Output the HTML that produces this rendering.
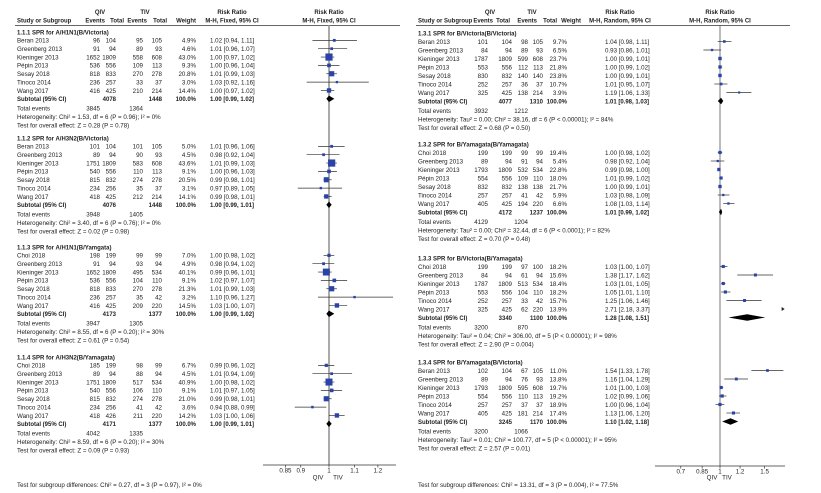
<!DOCTYPE html>
<html><head><meta charset="utf-8">
<style>
html,body{margin:0;padding:0;background:#fff;}
svg{display:block;font-family:"Liberation Sans",Arial,sans-serif;}
</style></head>
<body>
<svg id="chart" width="821" height="493" viewBox="0 0 821 493" xmlns="http://www.w3.org/2000/svg"></svg>
<script>
// ---------- LEFT PANEL DATA ----------
const L_titles = ["1.1.1 SPR for A/H1N1(B/Victoria)","1.1.2 SPR for A/H3N2(B/Victoria)","1.1.3 SPR for A/H1N1(B/Yamgata)","1.1.4 SPR for A/H3N2(B/Yamagata)"];
const L_names = [
 ["Beran 2013","Greenberg 2013","Kieninger 2013","Pépin 2013","Sesay 2018","Tinoco 2014","Wang 2017"],
 ["Beran 2013","Greenberg 2013","Kieninger 2013","Pépin 2013","Sesay 2018","Tinoco 2014","Wang 2017"],
 ["Choi 2018","Greenberg 2013","Kieninger 2013","Pépin 2013","Sesay 2018","Tinoco 2014","Wang 2017"],
 ["Choi 2018","Greenberg 2013","Kieninger 2013","Pépin 2013","Sesay 2018","Tinoco 2014","Wang 2017"]];
const L_qivE = [[96,91,1652,536,818,236,416],[101,89,1751,540,815,234,418],[198,91,1652,536,818,236,416],[185,89,1751,540,815,234,418]];
const L_qivT = [[104,94,1809,556,833,257,425],[104,94,1809,556,832,256,425],[199,94,1809,556,833,257,425],[199,94,1809,556,832,256,426]];
const L_tivE = [[95,89,558,109,270,33,210],[101,90,583,110,274,35,212],[99,93,495,104,270,35,209],[98,88,517,106,274,41,211]];
const L_tivT = [[105,93,608,113,278,37,214],[105,93,608,113,278,37,214],[99,94,534,110,278,42,220],[99,94,534,110,278,42,220]];
const L_weight = [[4.9,4.6,43.0,9.3,20.8,3.0,14.4],[5.0,4.5,43.6,9.1,20.5,3.1,14.1],[7.0,4.9,40.1,9.1,21.3,3.2,14.5],[6.7,4.5,40.9,9.1,21.0,3.6,14.2]];
const L_rr = [[1.02,1.01,1.00,1.00,1.01,1.03,1.00],[1.01,0.98,1.01,1.00,0.99,0.97,0.99],[1.00,0.98,0.99,1.02,1.01,1.10,1.03],[0.99,1.01,1.00,1.01,0.99,0.94,1.03]];
const L_lo = [[0.94,0.96,0.97,0.96,0.99,0.92,0.97],[0.96,0.92,0.99,0.96,0.98,0.89,0.98],[0.98,0.94,0.96,0.97,0.99,0.96,1.00],[0.96,0.94,0.98,0.97,0.98,0.88,1.00]];
const L_hi = [[1.11,1.07,1.02,1.04,1.03,1.16,1.02],[1.06,1.04,1.03,1.03,1.01,1.05,1.01],[1.02,1.02,1.01,1.07,1.03,1.27,1.07],[1.02,1.09,1.02,1.05,1.01,0.99,1.06]];
const L_subQivT = [4078,4076,4173,4171];
const L_subTivT = [1448,1448,1377,1377];
const L_subRR = [1.00,1.00,1.00,1.00];
const L_subLo = [0.99,0.99,0.99,0.99];
const L_subHi = [1.02,1.01,1.02,1.01];
const L_totQiv = [3845,3948,3947,4042];
const L_totTiv = [1364,1405,1305,1335];
const L_het = ["Heterogeneity: Chi² = 1.53, df = 6 (P = 0.96); I² = 0%","Heterogeneity: Chi² = 3.40, df = 6 (P = 0.76); I² = 0%","Heterogeneity: Chi² = 8.55, df = 6 (P = 0.20); I² = 30%","Heterogeneity: Chi² = 8.59, df = 6 (P = 0.20); I² = 30%"];
const L_test = ["Test for overall effect: Z = 0.28 (P = 0.78)","Test for overall effect: Z = 0.02 (P = 0.98)","Test for overall effect: Z = 0.61 (P = 0.54)","Test for overall effect: Z = 0.09 (P = 0.93)"];
const L_ticks = [0.85,0.9,1,1.1,1.2];
const L_tickLabels = ["0.85","0.9","1","1.1","1.2"];

// ---------- RIGHT PANEL DATA ----------
const R_titles = ["1.3.1 SPR for B/Victoria(B/Victoria)","1.3.2 SPR for B/Yamagata(B/Yamagata)","1.3.3 SPR for B/Victoria(B/Yamagata)","1.3.4 SPR for B/Yamagata(B/Victoria)"];
const R_names = [
 ["Beran 2013","Greenberg 2013","Kieninger 2013","Pépin 2013","Sesay 2018","Tinoco 2014","Wang 2017"],
 ["Choi 2018","Greenberg 2013","Kieninger 2013","Pépin 2013","Sesay 2018","Tinoco 2014","Wang 2017"],
 ["Choi 2018","Greenberg 2013","Kieninger 2013","Pépin 2013","Tinoco 2014","Wang 2017"],
 ["Beran 2013","Greenberg 2013","Kieninger 2013","Pépin 2013","Tinoco 2014","Wang 2017"]];
const R_qivE = [[101,84,1787,553,830,252,325],[199,89,1793,554,832,257,405],[199,84,1787,553,252,325],[102,89,1793,554,257,405]];
const R_qivT = [[104,94,1809,556,832,257,425],[199,94,1809,556,832,257,425],[199,94,1809,556,257,425],[104,94,1809,556,257,425]];
const R_tivE = [[98,89,599,112,140,36,138],[99,91,532,109,138,41,194],[97,61,513,104,33,62],[67,76,595,110,37,181]];
const R_tivT = [[105,93,608,113,140,37,214],[99,94,534,110,138,42,220],[100,94,534,110,42,220],[105,93,608,113,37,214]];
const R_weight = [[9.7,6.5,23.7,21.8,23.8,10.7,3.9],[19.4,5.4,22.8,18.0,21.7,5.9,6.6],[18.2,15.6,18.4,18.2,15.7,13.9],[11.0,13.8,19.7,19.2,18.9,17.4]];
const R_rr = [[1.04,0.93,1.00,1.00,1.00,1.01,1.19],[1.00,0.98,0.99,1.01,1.00,1.03,1.08],[1.03,1.38,1.03,1.05,1.25,2.71],[1.54,1.16,1.01,1.02,1.00,1.13]];
const R_lo = [[0.98,0.86,0.99,0.99,0.99,0.95,1.06],[0.98,0.92,0.98,0.99,0.99,0.98,1.03],[1.00,1.17,1.01,1.01,1.06,2.18],[1.33,1.04,1.00,0.99,0.96,1.06]];
const R_hi = [[1.11,1.01,1.01,1.02,1.01,1.07,1.33],[1.02,1.04,1.00,1.02,1.01,1.09,1.14],[1.07,1.62,1.05,1.10,1.46,3.37],[1.78,1.29,1.03,1.06,1.04,1.20]];
const R_subQivT = [4077,4172,3340,3245];
const R_subTivT = [1310,1237,1100,1170];
const R_subRR = [1.01,1.01,1.28,1.10];
const R_subLo = [0.98,0.99,1.08,1.02];
const R_subHi = [1.03,1.02,1.51,1.18];
const R_totQiv = [3932,4129,3200,3200];
const R_totTiv = [1212,1204,870,1066];
const R_het = ["Heterogeneity: Tau² = 0.00; Chi² = 38.16, df = 6 (P < 0.00001); I² = 84%","Heterogeneity: Tau² = 0.00; Chi² = 32.44, df = 6 (P < 0.0001); I² = 82%","Heterogeneity: Tau² = 0.04; Chi² = 306.00, df = 5 (P < 0.00001); I² = 98%","Heterogeneity: Tau² = 0.01; Chi² = 100.77, df = 5 (P < 0.00001); I² = 95%"];
const R_test = ["Test for overall effect: Z = 0.68 (P = 0.50)","Test for overall effect: Z = 0.70 (P = 0.48)","Test for overall effect: Z = 2.90 (P = 0.004)","Test for overall effect: Z = 2.57 (P = 0.01)"];
const R_ticks = [0.7,0.85,1,1.2,1.5];
const R_tickLabels = ["0.7","0.85","1","1.2","1.5"];

const svg = document.getElementById('chart');
const NS = 'http://www.w3.org/2000/svg';
function mk(tag, attrs, parent){
  const e = document.createElementNS(NS, tag);
  for (const k in attrs) e.setAttribute(k, attrs[k]);
  (parent||svg).appendChild(e); return e;
}
function txt(x,y,s,anchor,bold,parent,name,size){
  const t = mk('text',{x:x,y:y,'font-size':size||'6.2','text-anchor':anchor||'start','fill':'#222','font-weight':bold?'bold':'normal'},parent);
  t.textContent = s;
  
  
  return t;
}
function f2(v){return v.toFixed(2);}

function drawPanel(c, d){
  const g = mk('g',{});
  
  
  const xs = v => c.cx + c.k*Math.log(v);
  const H = '6';
  txt(c.qivC,14,'QIV','middle',true,g,'qiv-header',H);
  txt(c.tivC,14,'TIV','middle',true,g,'tiv-header',H);
  txt(c.rrC,14,'Risk Ratio','middle',true,g,'risk-ratio-header',H);
  txt(c.cx,14,'Risk Ratio','middle',true,g,'plot-risk-ratio-header',H);
  txt(c.nameX,22.5,'Study or Subgroup','start',true,g,'study-header',H);
  txt(c.hcols[0],22.5,'Events','end',true,g,'qiv-events-header',H);
  txt(c.hcols[1],22.5,'Total','end',true,g,'qiv-total-header',H);
  txt(c.hcols[2],22.5,'Events','end',true,g,'tiv-events-header',H);
  txt(c.hcols[3],22.5,'Total','end',true,g,'tiv-total-header',H);
  txt(c.hcols[4],22.5,'Weight','end',true,g,'weight-header',H);
  txt(c.rrC,22.5,c.method,'middle',true,g,'method-header',H);
  txt(c.cx,22.5,c.method,'middle',true,g,'plot-method-header',H);
  mk('line',{x1:c.ulx1,x2:c.ulx2,y1:25.5,y2:25.5,stroke:'#333','stroke-width':0.8},g);
  mk('line',{x1:xs(1),x2:xs(1),y1:25.5,y2:c.axisY,stroke:c.vColor,'stroke-width':c.vW},g);
  for (let gi=0; gi<d.titles.length; gi++){
    const gy = c.gy[gi];
    txt(c.nameX,gy+2.3,d.titles[gi],'start',true,g,'subgroup-title',H);
    const n = d.names[gi].length;
    for (let i=0;i<n;i++){
      const y = gy + c.step*(i+1);
      const by = y+2.3;
      txt(c.nameX,by,d.names[gi][i],'start',false,g,'study-name');
      txt(c.cols[0],by,String(d.qivE[gi][i]),'end',false,g,'qiv-events');
      txt(c.cols[1],by,String(d.qivT[gi][i]),'end',false,g,'qiv-total');
      txt(c.cols[2],by,String(d.tivE[gi][i]),'end',false,g,'tiv-events');
      txt(c.cols[3],by,String(d.tivT[gi][i]),'end',false,g,'tiv-total');
      txt(c.cols[4],by,d.weight[gi][i].toFixed(1)+'%','end',false,g,'weight');
      txt(c.rrX,by,f2(d.rr[gi][i])+' ['+f2(d.lo[gi][i])+', '+f2(d.hi[gi][i])+']','start',false,g,'risk-ratio-value');
      const lo = Math.max(d.lo[gi][i], c.min), hi = Math.min(d.hi[gi][i], c.max);
      if (lo < c.max){
        const ci = mk('line',{x1:xs(lo),x2:xs(hi),y1:y,y2:y,stroke:'#333','stroke-width':0.7},g);
        
        
      }
      if (d.hi[gi][i] > c.max){
        const ax = xs(c.max);
        const ar = mk('path',{d:`M${ax} ${y} l-3 -2 v4 z`,fill:'#222'},g);
        
        
      }
      if (d.rr[gi][i] >= c.min && d.rr[gi][i] <= c.max){
        const s = c.sqBase + c.sqK*Math.sqrt(d.weight[gi][i]);
        const sq = mk('rect',{x:xs(d.rr[gi][i])-s/2,y:y-s/2,width:s,height:s,fill:'#2a43a8'},g);
        
        
      }
    }
    const sy = gy + c.step*(n+1);
    txt(c.nameX,sy+2.3,'Subtotal (95% CI)','start',true,g,'subtotal-label',H);
    txt(c.cols[1],sy+2.3,String(d.subQivT[gi]),'end',true,g,'subtotal-qiv-total',H);
    txt(c.cols[3],sy+2.3,String(d.subTivT[gi]),'end',true,g,'subtotal-tiv-total',H);
    txt(c.cols[4],sy+2.3,'100.0%','end',true,g,'subtotal-weight',H);
    txt(c.rrX,sy+2.3,f2(d.subRR[gi])+' ['+f2(d.subLo[gi])+', '+f2(d.subHi[gi])+']','start',true,g,'subtotal-risk-ratio',H);
    const xl = xs(d.subLo[gi]), xm = xs(d.subRR[gi]), xh = xs(d.subHi[gi]);
    const dm = mk('path',{d:`M${xl} ${sy} L${xm} ${sy-3.2} L${xh} ${sy} L${xm} ${sy+3.2} Z`,fill:'#000'},g);
    
    
    const ty = sy + c.step + 1.2;
    txt(c.nameX,ty+2.3,'Total events','start',false,g,'total-events-label');
    txt(c.cols[0],ty+2.3,String(d.totQiv[gi]),'end',false,g,'total-qiv-events');
    txt(c.cols[2],ty+2.3,String(d.totTiv[gi]),'end',false,g,'total-tiv-events');
    txt(c.nameX,ty+c.step+2.3,d.het[gi],'start',false,g,'heterogeneity-text');
    txt(c.nameX,ty+2*c.step+2.3,d.test[gi],'start',false,g,'overall-effect-text');
  }
  const ax = mk('line',{x1:c.axX1,x2:c.axX2,y1:c.axisY,y2:c.axisY,stroke:'#333','stroke-width':0.7},g);
  
  
  d.ticks.forEach((t,i)=>{
    mk('line',{x1:xs(t),x2:xs(t),y1:c.axisY,y2:c.axisY+2.5,stroke:'#333','stroke-width':0.7},g);
    txt(xs(t),c.axisY+7.5,d.tickLabels[i],'middle',false,g,'x-tick-label');
  });
  txt(c.favL,479.5,'QIV','middle',false,g,'favours-qiv-label');
  txt(c.favR,479.5,'TIV','middle',false,g,'favours-tiv-label');
  txt(c.nameX,487,d.sub,'start',false,g,'subgroup-differences-text');
}

drawPanel({name:'left-forest-panel',nameX:17,cols:[100,116,143,162,196],hcols:[105,124,147,167,196],rrX:210,qivC:100,tivC:145,rrC:232,
  method:'M-H, Fixed, 95% CI',ulx1:15,ulx2:400,cx:329,k:268,min:0.78,max:1.28,gy:[32,138,247,357],step:8.35,
  axisY:465,axX1:263,axX2:396,vColor:'#aaaaaa',vW:2,sqBase:0.6,sqK:1.0,favL:318,favR:338},
 {titles:L_titles,names:L_names,qivE:L_qivE,qivT:L_qivT,tivE:L_tivE,tivT:L_tivT,weight:L_weight,rr:L_rr,lo:L_lo,hi:L_hi,
  subQivT:L_subQivT,subTivT:L_subTivT,subRR:L_subRR,subLo:L_subLo,subHi:L_subHi,totQiv:L_totQiv,totTiv:L_totTiv,het:L_het,test:L_test,
  ticks:L_ticks,tickLabels:L_tickLabels,sub:'Test for subgroup differences: Chi² = 0.27, df = 3 (P = 0.97), I² = 0%'});

drawPanel({name:'right-forest-panel',nameX:418,cols:[488,512,528,543,567],hcols:[493,510,537,557,581],rrX:605,qivC:490,tivC:532,rrC:620,
  method:'M-H, Random, 95% CI',ulx1:416,ulx2:790,cx:720,k:110,min:0.55,max:1.8,gy:[33,144,258,362],step:8.5,
  axisY:466,axX1:655,axX2:785,vColor:'#555555',vW:0.8,sqBase:1.2,sqK:0.45,favL:712,favR:727},
 {titles:R_titles,names:R_names,qivE:R_qivE,qivT:R_qivT,tivE:R_tivE,tivT:R_tivT,weight:R_weight,rr:R_rr,lo:R_lo,hi:R_hi,
  subQivT:R_subQivT,subTivT:R_subTivT,subRR:R_subRR,subLo:R_subLo,subHi:R_subHi,totQiv:R_totQiv,totTiv:R_totTiv,het:R_het,test:R_test,
  ticks:R_ticks,tickLabels:R_tickLabels,sub:'Test for subgroup differences: Chi² = 13.31, df = 3 (P = 0.004), I² = 77.5%'});
</script>
</body></html>
